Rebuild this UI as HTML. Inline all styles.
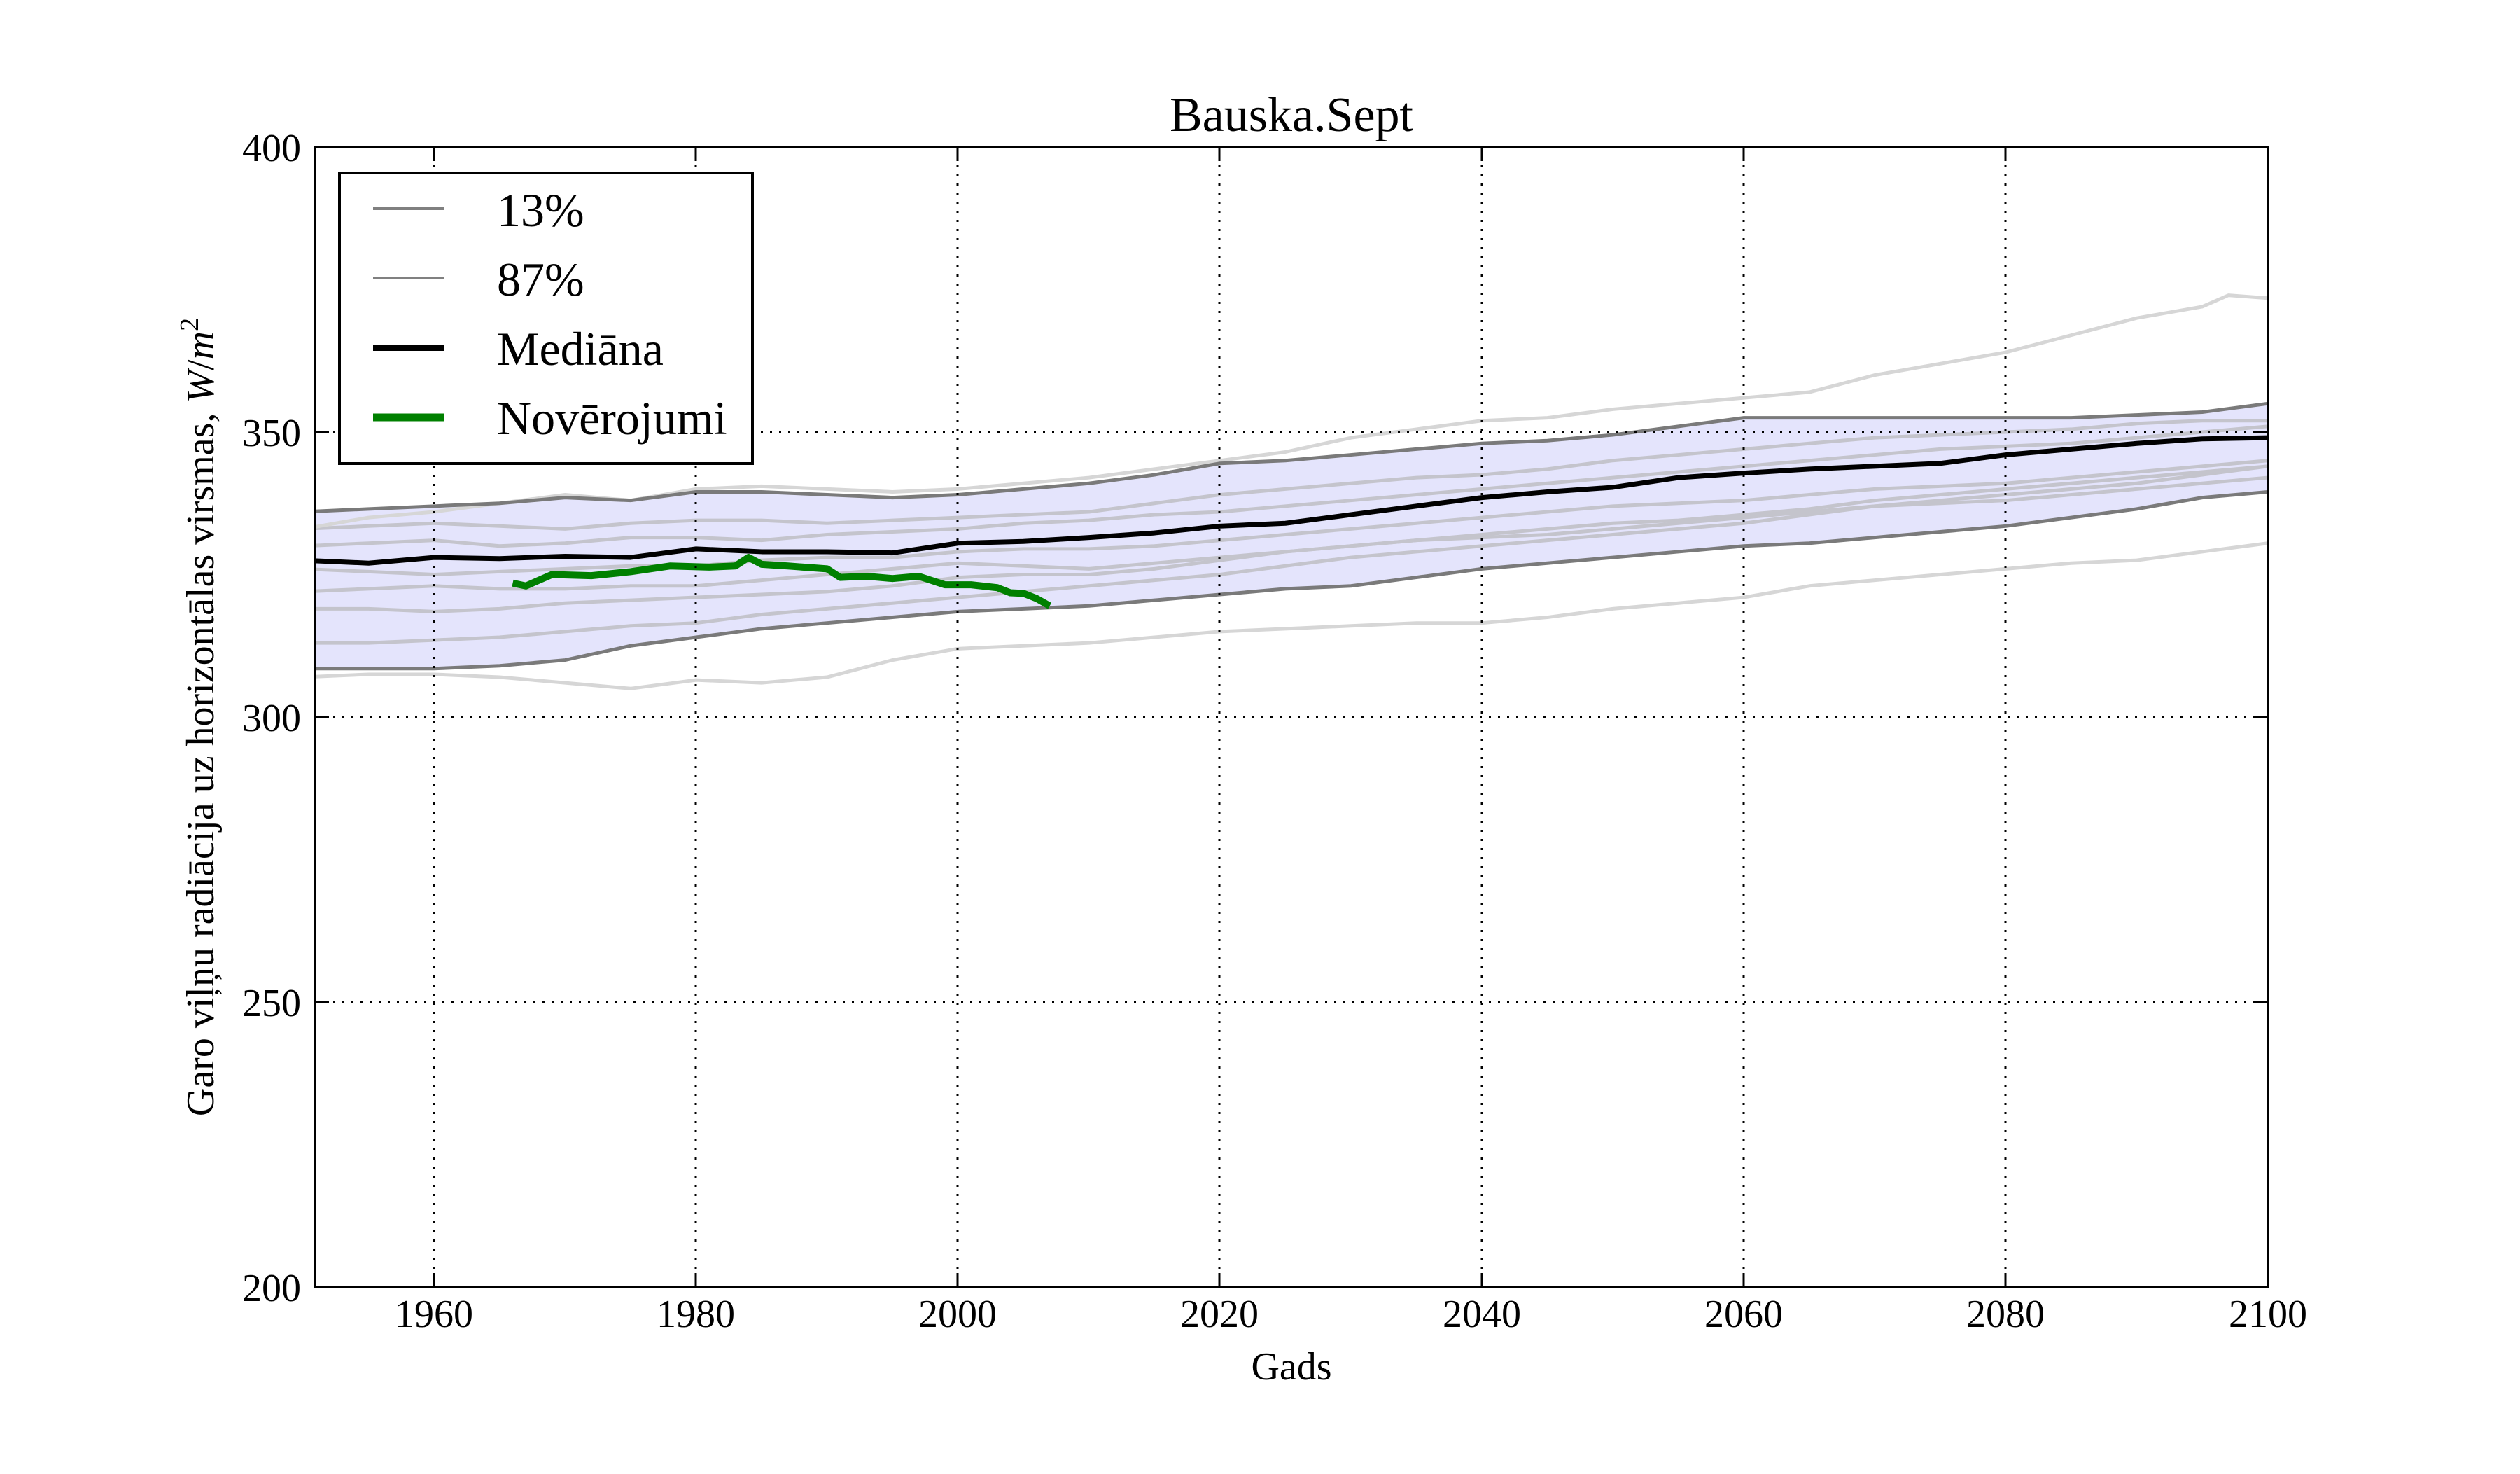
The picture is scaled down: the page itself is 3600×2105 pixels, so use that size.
<!DOCTYPE html>
<html><head><meta charset="utf-8"><style>
html,body{margin:0;padding:0;background:#fff}
svg text{font-family:"Liberation Serif",serif;fill:#000}
</style></head><body>
<svg width="3600" height="2100" viewBox="0 0 3600 2100" xmlns="http://www.w3.org/2000/svg">
<rect width="3600" height="2100" fill="#fff"/>
<defs><clipPath id="c"><rect x="450" y="210" width="2790" height="1628"/></clipPath></defs>
<g clip-path="url(#c)">
<g transform="translate(450,1838) scale(18.71,-8.14) translate(-1950.9,-200)" fill="none" stroke-linejoin="round">
<polygon vector-effect="non-scaling-stroke" fill="#e4e4fc" stroke="none" points="1950,336 1955,336.5 1960,337 1965,337.5 1970,338.5 1975,338 1980,339.5 1985,339.5 1990,339 1995,338.5 2000,339 2005,340 2010,341 2015,342.5 2020,344.5 2025,345 2030,346 2035,347 2040,348 2045,348.5 2050,349.5 2055,351 2060,352.5 2065,352.5 2070,352.5 2075,352.5 2080,352.5 2085,352.5 2090,353 2095,353.5 2100,355 2100,339.5 2095,338.5 2090,336.5 2085,335 2080,333.5 2075,332.5 2070,331.5 2065,330.5 2060,330 2055,329 2050,328 2045,327 2040,326 2035,324.5 2030,323 2025,322.5 2020,321.5 2015,320.5 2010,319.5 2005,319 2000,318.5 1995,317.5 1990,316.5 1985,315.5 1980,314 1975,312.5 1970,310 1965,309 1960,308.5 1955,308.5 1950,308.5"/>
<g stroke="#c4c4cc" stroke-width="5">
<polyline vector-effect="non-scaling-stroke" points="1950,330 1955,330.5 1960,331 1965,330 1970,330.5 1975,331.5 1980,331.5 1985,331 1990,332 1995,332.5 2000,333 2005,334 2010,334.5 2015,335.5 2020,336 2025,337 2030,338 2035,339 2040,340 2045,341 2050,342 2055,343 2060,344 2065,345 2070,346 2075,347 2080,347.5 2085,348 2090,349 2095,350 2100,351"/>
<polyline vector-effect="non-scaling-stroke" points="1950,326 1955,325.5 1960,325 1965,325.5 1970,326 1975,326.5 1980,326.5 1985,327.5 1990,328 1995,328 2000,329 2005,329.5 2010,329.5 2015,330 2020,331 2025,332 2030,333 2035,334 2040,335 2045,336 2050,337 2055,337.5 2060,338 2065,339 2070,340 2075,340.5 2080,341 2085,342 2090,343 2095,344 2100,345"/>
<polyline vector-effect="non-scaling-stroke" points="1950,322 1955,322.5 1960,323 1965,322.5 1970,322.5 1975,323 1980,323 1985,324 1990,325 1995,326 2000,327 2005,326.5 2010,326 2015,327 2020,328 2025,329 2030,330 2035,331 2040,332 2045,333 2050,334 2055,334.5 2060,335.5 2065,336.5 2070,338 2075,339 2080,340 2085,341 2090,342 2095,343 2100,344"/>
<polyline vector-effect="non-scaling-stroke" points="1950,319 1955,319 1960,318.5 1965,319 1970,320 1975,320.5 1980,321 1985,321.5 1990,322 1995,323 2000,324.5 2005,325 2010,325 2015,326 2020,327.5 2025,329 2030,330 2035,331 2040,331.5 2045,332 2050,333 2055,334 2060,335 2065,336 2070,337 2075,337.5 2080,338 2085,339 2090,340 2095,341 2100,342"/>
<polyline vector-effect="non-scaling-stroke" points="1950,313 1955,313 1960,313.5 1965,314 1970,315 1975,316 1980,316.5 1985,318 1990,319 1995,320 2000,321 2005,322 2010,323 2015,324 2020,325 2025,326.5 2030,328 2035,329 2040,330 2045,331 2050,332 2055,333 2060,334 2065,335.5 2070,337 2075,338 2080,339 2085,340 2090,341 2095,342.5 2100,344"/>
<polyline vector-effect="non-scaling-stroke" points="1950,333 1955,333.5 1960,334 1965,333.5 1970,333 1975,334 1980,334.5 1985,334.5 1990,334 1995,334.5 2000,335 2005,335.5 2010,336 2015,337.5 2020,339 2025,340 2030,341 2035,342 2040,342.5 2045,343.5 2050,345 2055,346 2060,347 2065,348 2070,349 2075,349.5 2080,350 2085,350.5 2090,351.5 2095,352 2100,352"/>
</g>
<g stroke="#d6d6d6" stroke-width="5">
<polyline vector-effect="non-scaling-stroke" points="1950,333 1955,335 1960,336 1965,337.5 1970,339 1975,338 1980,340 1985,340.5 1990,340 1995,339.5 2000,340 2005,341 2010,342 2015,343.5 2020,345 2025,346.5 2030,349 2035,350.5 2040,352 2045,352.5 2050,354 2055,355 2060,356 2065,357 2070,360 2075,362 2080,364 2085,367 2090,370 2095,372 2097,374 2100,373.5"/>
<polyline vector-effect="non-scaling-stroke" points="1950,307 1955,307.5 1960,307.5 1965,307 1970,306 1975,305 1980,306.5 1985,306 1990,307 1995,310 2000,312 2005,312.5 2010,313 2015,314 2020,315 2025,315.5 2030,316 2035,316.5 2040,316.5 2045,317.5 2050,319 2055,320 2060,321 2065,323 2070,324 2075,325 2080,326 2085,327 2090,327.5 2095,329 2100,330.5"/>
</g>
<g stroke="#7a7a7a" stroke-width="5">
<polyline vector-effect="non-scaling-stroke" points="1950,336 1955,336.5 1960,337 1965,337.5 1970,338.5 1975,338 1980,339.5 1985,339.5 1990,339 1995,338.5 2000,339 2005,340 2010,341 2015,342.5 2020,344.5 2025,345 2030,346 2035,347 2040,348 2045,348.5 2050,349.5 2055,351 2060,352.5 2065,352.5 2070,352.5 2075,352.5 2080,352.5 2085,352.5 2090,353 2095,353.5 2100,355"/>
<polyline vector-effect="non-scaling-stroke" points="1950,308.5 1955,308.5 1960,308.5 1965,309 1970,310 1975,312.5 1980,314 1985,315.5 1990,316.5 1995,317.5 2000,318.5 2005,319 2010,319.5 2015,320.5 2020,321.5 2025,322.5 2030,323 2035,324.5 2040,326 2045,327 2050,328 2055,329 2060,330 2065,330.5 2070,331.5 2075,332.5 2080,333.5 2085,335 2090,336.5 2095,338.5 2100,339.5"/>
</g>
<polyline vector-effect="non-scaling-stroke" stroke="#000" stroke-width="7" points="1950,327.5 1955,327 1960,328 1965,327.8 1970,328.2 1975,328 1980,329.5 1985,329 1990,329 1995,328.8 2000,330.5 2005,330.8 2010,331.5 2015,332.3 2020,333.5 2025,334 2030,335.5 2035,337 2040,338.5 2045,339.5 2050,340.3 2055,342 2060,342.8 2065,343.5 2070,344 2075,344.5 2080,346 2085,347 2090,348 2095,348.8 2100,349"/>
<polyline vector-effect="non-scaling-stroke" stroke="#008000" stroke-width="10" points="1966,323.5 1967,323 1969,325 1972,324.8 1975,325.5 1978,326.5 1981,326.3 1983,326.5 1984,328 1985,326.8 1987,326.5 1990,326 1991,324.5 1993,324.7 1995,324.3 1997,324.7 1999,323.2 2001,323.2 2003,322.7 2004,321.8 2005,321.7 2006,320.8 2007,319.5"/>
</g>
</g>
<g stroke="#000" stroke-width="3" stroke-dasharray="3,10">
<line x1="620" y1="210" x2="620" y2="1838"/><line x1="994" y1="210" x2="994" y2="1838"/>
<line x1="1368" y1="210" x2="1368" y2="1838"/><line x1="1742" y1="210" x2="1742" y2="1838"/>
<line x1="2117" y1="210" x2="2117" y2="1838"/><line x1="2491" y1="210" x2="2491" y2="1838"/>
<line x1="2865" y1="210" x2="2865" y2="1838"/>
<line x1="450" y1="617" x2="3240" y2="617"/><line x1="450" y1="1024" x2="3240" y2="1024"/><line x1="450" y1="1431" x2="3240" y2="1431"/>
</g>
<g stroke="#000" stroke-width="3">
<path d="M620 1838v-20M994 1838v-20M1368 1838v-20M1742 1838v-20M2117 1838v-20M2491 1838v-20M2865 1838v-20
M620 210v20M994 210v20M1368 210v20M1742 210v20M2117 210v20M2491 210v20M2865 210v20
M450 617h20M450 1024h20M450 1431h20M3240 617h-20M3240 1024h-20M3240 1431h-20"/>
</g>
<rect x="450" y="210" width="2790" height="1628" fill="none" stroke="#000" stroke-width="4"/>
<g font-size="56" text-anchor="end">
<text x="430" y="230">400</text><text x="430" y="637">350</text><text x="430" y="1044">300</text><text x="430" y="1451">250</text><text x="430" y="1858">200</text>
</g>
<g font-size="56" text-anchor="middle">
<text x="620" y="1895">1960</text><text x="994" y="1895">1980</text><text x="1368" y="1895">2000</text><text x="1742" y="1895">2020</text><text x="2117" y="1895">2040</text><text x="2491" y="1895">2060</text><text x="2865" y="1895">2080</text><text x="3240" y="1895">2100</text>
<text x="1845" y="1970">Gads</text>
<text x="1845" y="187" font-size="70">Bauska.Sept</text>
<text transform="translate(305,1024) rotate(-90)" x="0" y="0">Garo viļņu radiācija uz horizontālas virsmas, <tspan font-style="italic">W</tspan>/<tspan font-style="italic">m</tspan><tspan font-size="38" dy="-22">2</tspan></text>
</g>
<rect x="485" y="247" width="590" height="415" fill="#fff" stroke="#000" stroke-width="4"/>
<g stroke-width="4">
<line x1="533" y1="298" x2="634" y2="298" stroke="#808080"/>
<line x1="533" y1="397" x2="634" y2="397" stroke="#808080"/>
<line x1="533" y1="497" x2="634" y2="497" stroke="#000" stroke-width="8"/>
<line x1="533" y1="596" x2="634" y2="596" stroke="#008000" stroke-width="11"/>
</g>
<g font-size="68">
<text x="710" y="323">13%</text><text x="710" y="422">87%</text><text x="710" y="521">Mediāna</text><text x="710" y="620">Novērojumi</text>
</g>
</svg>
</body></html>
